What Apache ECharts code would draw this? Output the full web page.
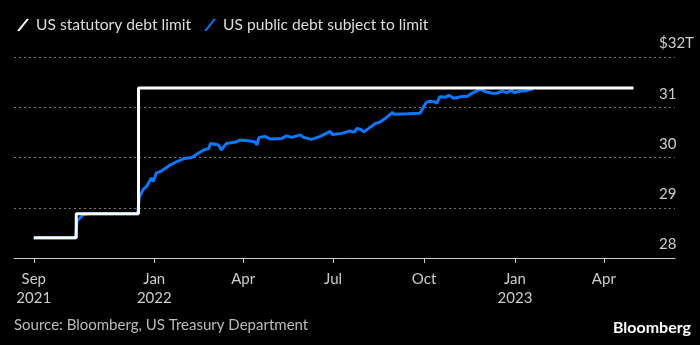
<!DOCTYPE html>
<html>
<head>
<meta charset="utf-8">
<script src="https://cdn.jsdelivr.net/npm/echarts@6/dist/echarts.min.js"></script>
<style>
html,body{margin:0;padding:0;background:#000;}
#chart{width:700px;height:345px;}
</style>
</head>
<body>
<div id="chart"></div>
<script>
// ---- data ----
const limitName = 'US statutory debt limit';
const debtName = 'US public debt subject to limit';

const limitDates = ['2021-09-01', '2021-10-14', '2021-12-16', '2023-05-01'];
const limitValues = [28.401, 28.881, 31.381, 31.381];

const debtDates = [
  '2021-09-01', '2021-10-13', '2021-10-15', '2021-10-18', '2021-10-21', '2021-10-26', '2021-12-15',
  '2021-12-17', '2021-12-21', '2021-12-24', '2021-12-29', '2021-12-31',
  '2022-01-03', '2022-01-08', '2022-01-12', '2022-01-17', '2022-01-24', '2022-01-31',
  '2022-02-08', '2022-02-14', '2022-02-20', '2022-02-25', '2022-02-27',
  '2022-03-07', '2022-03-10', '2022-03-15', '2022-03-25', '2022-03-29', '2022-03-30',
  '2022-04-08', '2022-04-13', '2022-04-15', '2022-04-17', '2022-04-23', '2022-04-28',
  '2022-05-10', '2022-05-15', '2022-05-20', '2022-05-29',
  '2022-06-01', '2022-06-09', '2022-06-18', '2022-06-28', '2022-06-30',
  '2022-07-10', '2022-07-18', '2022-07-22', '2022-07-25', '2022-07-29',
  '2022-08-01', '2022-08-06', '2022-08-13', '2022-08-18', '2022-08-23', '2022-08-26', '2022-08-30', '2022-08-31',
  '2022-09-14', '2022-09-27', '2022-09-29',
  '2022-10-03', '2022-10-06', '2022-10-11', '2022-10-14', '2022-10-17', '2022-10-23', '2022-10-26', '2022-10-31',
  '2022-11-07', '2022-11-14', '2022-11-17', '2022-11-22', '2022-11-27',
  '2022-12-02', '2022-12-09', '2022-12-14', '2022-12-19', '2022-12-24', '2022-12-29', '2022-12-31',
  '2023-01-06', '2023-01-13', '2023-01-18', '2023-01-19'
];
const debtValues = [
  28.40, 28.40, 28.74, 28.80, 28.86, 28.88, 28.88,
  29.22, 29.37, 29.42, 29.59, 29.52,
  29.69, 29.73, 29.78, 29.85, 29.92, 29.98,
  30.00, 30.08, 30.15, 30.18, 30.28,
  30.25, 30.15, 30.28, 30.31, 30.35, 30.38,
  30.33, 30.31, 30.25, 30.40, 30.42, 30.37,
  30.38, 30.43, 30.40, 30.45,
  30.40, 30.36, 30.42, 30.52, 30.46,
  30.48, 30.53, 30.50, 30.58, 30.56,
  30.51, 30.58, 30.68, 30.71, 30.78, 30.83, 30.90, 30.86,
  30.87, 30.88, 30.91,
  31.09, 31.12, 31.11, 31.08, 31.21, 31.20, 31.24, 31.18,
  31.21, 31.22, 31.26, 31.31, 31.36,
  31.31, 31.28, 31.28, 31.32, 31.29, 31.34, 31.29,
  31.32, 31.33, 31.36, 31.38
];

const xTickDates = ['2021-09-01', '2022-01-01', '2022-04-01', '2022-07-01', '2022-10-01', '2023-01-01', '2023-04-01'];
const xMinDate = '2021-08-12';
const xMaxDate = '2023-06-12';
const yTicks = [28, 29, 30, 31, 32];
const monthNames = ['Jan','Feb','Mar','Apr','May','Jun','Jul','Aug','Sep','Oct','Nov','Dec'];

// ---- helpers ----
function ts(s) {
  const p = s.split('-').map(Number);
  return Date.UTC(p[0], p[1] - 1, p[2]);
}
const zip = (ds, vs) => ds.map((d, i) => [ts(d), vs[i]]);
const xTicks = xTickDates.map(ts);

const FONT = 'Lato';
const chart = echarts.init(document.getElementById('chart'), null, {renderer: 'canvas'});
chart.setOption({
  backgroundColor: '#000',
  animation: false,
  textStyle: {fontFamily: FONT},
  legend: {
    left: 12, top: 12,
    itemWidth: 12, itemHeight: 12, itemGap: 13,
    data: [
      {name: limitName, icon: 'path://M0,12 L2.4,12 L12,0 L9.6,0 Z', itemStyle: {color: '#fff'}},
      {name: debtName, icon: 'path://M0,12 L2.4,12 L12,0 L9.6,0 Z', itemStyle: {color: '#0a78ff'}}
    ],
    textStyle: {color: '#ddd', fontSize: 15.6, fontFamily: FONT, padding: [0, 0, 0, 2]}
  },
  grid: {left: 14, right: 25, top: 57, bottom: 87, containLabel: false},
  xAxis: {
    type: 'value',
    min: ts(xMinDate), max: ts(xMaxDate),
    axisLine: {show: true, lineStyle: {color: '#ccc', width: 1}},
    axisTick: {show: true, length: 5, customValues: xTicks, lineStyle: {color: '#ccc'}},
    axisLabel: {
      customValues: xTicks,
      color: '#ccc', fontSize: 15, fontFamily: FONT, lineHeight: 19, margin: 12,
      formatter: function (v) {
        const d = new Date(v);
        const m = d.getUTCMonth();
        const first = Math.abs(v - xTicks[0]) < 86400000;
        return monthNames[m] + ((m === 0 || first) ? '\n' + d.getUTCFullYear() : '');
      }
    },
    splitLine: {show: false}
  },
  yAxis: {
    type: 'value',
    position: 'right',
    min: yTicks[0], max: yTicks[yTicks.length - 1], interval: 1,
    axisLine: {show: false},
    axisTick: {show: false},
    splitLine: {show: true, lineStyle: {color: '#777', type: [2, 3], width: 1}},
    axisLabel: {
      inside: true, margin: 16, align: 'left', verticalAlign: 'bottom',
      padding: [0, 0, 6, 0],
      color: '#ccc', fontSize: 15, fontFamily: FONT,
      formatter: function (v) {
        return v === yTicks[yTicks.length - 1] ? '$' + v + 'T' : String(v);
      }
    }
  },
  series: [
    {
      name: debtName, type: 'line', data: zip(debtDates, debtValues),
      symbol: 'none', lineStyle: {color: '#0a78ff', width: 3}, itemStyle: {color: '#0a78ff'}, z: 2
    },
    {
      name: limitName, type: 'line', step: 'end', data: zip(limitDates, limitValues),
      symbol: 'none', lineStyle: {color: '#fff', width: 3}, itemStyle: {color: '#fff'}, z: 3
    }
  ],
  graphic: [
    {type: 'text', left: 14, top: 318, style: {text: 'Source: Bloomberg, US Treasury Department', fill: '#bbb', fontSize: 15, fontFamily: FONT}},
    {type: 'text', right: 9, top: 320, style: {text: 'Bloomberg', fill: '#fff', fontSize: 16, fontWeight: 'bold', fontFamily: FONT}}
  ]
});
</script>
</body>
</html>
